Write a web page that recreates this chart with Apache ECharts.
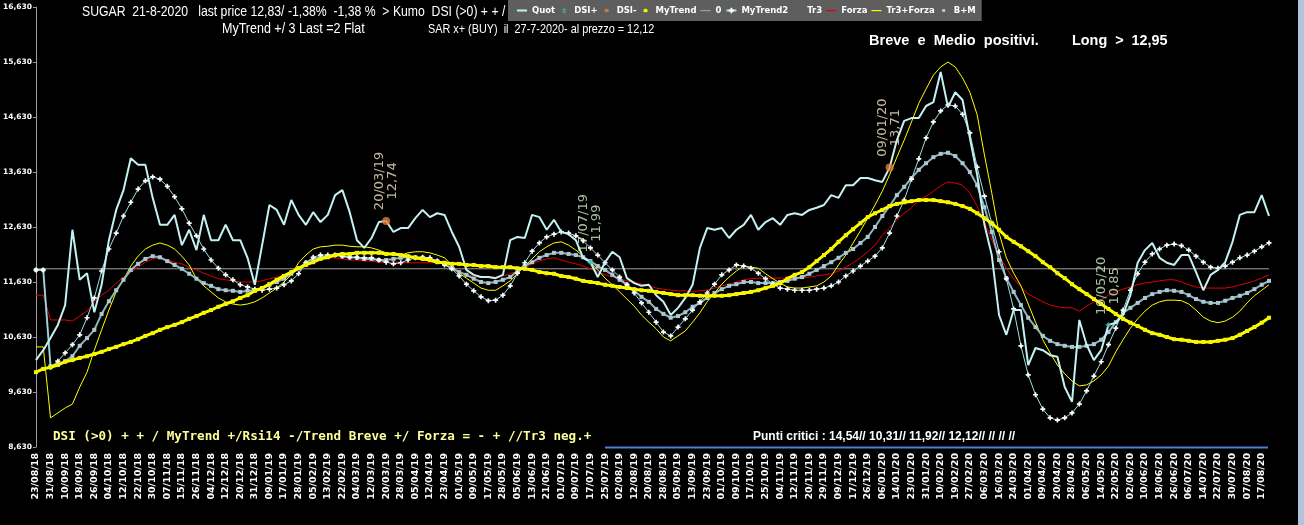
<!DOCTYPE html>
<html>
<head>
<meta charset="utf-8">
<script src="https://cdn.jsdelivr.net/npm/echarts@6/dist/echarts.min.js"></script>
<style>
html,body{margin:0;padding:0;background:#000;}
#c{width:1304px;height:525px;}
</style>
</head>
<body>
<div id="c"></div>
<script>
// ---------- data ----------
const tickLabels = ['23/08/18','31/08/18','10/09/18','18/09/18','26/09/18','04/10/18','12/10/18','22/10/18','30/10/18','07/11/18','15/11/18','26/11/18','04/12/18','12/12/18','20/12/18','31/12/18',
'09/01/19','17/01/19','28/01/19','05/02/19','13/02/19','22/02/19','04/03/19','12/03/19','20/03/19','28/03/19','05/04/19','12/04/19','23/04/19','01/05/19','09/05/19','17/05/19','28/05/19','05/06/19','13/06/19','21/06/19','01/07/19','09/07/19','17/07/19','25/07/19','02/08/19','12/08/19','20/08/19','28/08/19','05/09/19','13/09/19','23/09/19','01/10/19','09/10/19','17/10/19','25/10/19','04/11/19','12/11/19','20/11/19','29/11/19','09/12/19','17/12/19','26/12/19',
'06/01/20','14/01/20','23/01/20','31/01/20','10/02/20','19/02/20','27/02/20','06/03/20','16/03/20','24/03/20','01/04/20','09/04/20','20/04/20','28/04/20','06/05/20','14/05/20','22/05/20','02/06/20','10/06/20','18/06/20','26/06/20','06/07/20','14/07/20','22/07/20','30/07/20','07/08/20','17/08/20'];
const lastDate = '21/08/20';

const quot = [10.21,10.39,10.61,10.85,11.21,12.58,11.67,11.79,11.08,11.58,
12.39,12.94,13.30,13.88,13.76,13.76,13.16,12.67,12.67,12.85,
12.30,12.58,12.21,12.85,12.39,12.39,12.67,12.39,12.39,12.07,
11.58,12.30,13.03,12.94,12.67,13.12,12.85,12.67,12.90,12.72,
12.85,13.21,13.30,12.90,12.39,12.25,12.43,12.72,12.74,12.54,
12.61,12.61,12.79,12.94,12.81,12.88,12.85,12.54,12.27,11.85,
11.76,11.72,11.72,11.70,11.76,12.39,12.45,12.43,12.85,12.81,
12.58,12.76,12.54,12.50,12.39,12.07,11.99,11.72,11.99,12.18,
12.08,11.70,11.61,11.56,11.58,11.39,11.27,11.03,11.16,11.34,
11.58,12.25,12.61,12.58,12.61,12.43,12.58,12.67,12.85,12.58,
12.72,12.79,12.67,12.85,12.88,12.85,12.94,12.98,13.03,13.21,
13.16,13.39,13.39,13.52,13.52,13.48,13.45,13.71,14.21,14.56,
14.61,14.61,14.83,14.90,15.45,14.81,15.08,14.94,14.25,13.58,
12.67,12.12,11.03,10.67,11.12,11.12,10.12,10.43,10.39,10.30,
10.27,9.72,9.45,10.94,10.49,10.21,10.39,10.85,10.89,11.03,
11.39,11.98,12.21,12.34,12.07,11.98,11.94,12.12,12.12,11.81,
11.48,11.76,11.85,11.99,12.36,12.85,12.90,12.90,13.21,12.83];

const myTrend2 = [11.85,11.85,10.08,10.19,10.34,10.49,10.67,10.98,11.34,11.83,
12.23,12.52,12.83,13.08,13.32,13.47,13.54,13.50,13.37,13.18,
12.96,12.70,12.47,12.23,12.03,11.88,11.76,11.67,11.58,11.54,
11.50,11.48,11.50,11.52,11.58,11.65,11.78,11.98,12.08,12.12,
12.12,12.12,12.10,12.08,12.08,12.07,12.07,12.03,11.99,11.96,
11.98,12.03,12.07,12.08,12.07,12.01,11.94,11.87,11.74,11.59,
11.47,11.36,11.29,11.30,11.39,11.56,11.79,11.98,12.19,12.34,
12.45,12.50,12.54,12.52,12.47,12.38,12.25,12.12,11.98,11.85,
11.72,11.58,11.43,11.25,11.08,10.90,10.72,10.65,10.81,10.96,
11.12,11.27,11.43,11.59,11.76,11.85,11.94,11.92,11.88,11.79,
11.69,11.59,11.52,11.50,11.48,11.48,11.48,11.50,11.52,11.56,
11.63,11.74,11.83,11.92,12.01,12.10,12.25,12.52,12.83,13.12,
13.50,13.87,14.25,14.54,14.74,14.85,14.83,14.68,14.34,13.72,
13.19,12.70,12.18,11.69,11.14,10.47,9.94,9.58,9.32,9.16,
9.12,9.16,9.25,9.41,9.65,9.92,10.18,10.49,10.79,11.12,
11.48,11.78,11.99,12.14,12.23,12.30,12.32,12.29,12.21,12.10,
11.99,11.90,11.88,11.92,11.99,12.07,12.12,12.19,12.27,12.34];

const bandBM = [11.85,11.85,10.10,10.14,10.19,10.28,10.47,10.61,10.76,11.05,
11.28,11.48,11.67,11.85,11.96,12.05,12.10,12.08,12.01,11.94,
11.87,11.78,11.69,11.61,11.56,11.50,11.48,11.47,11.45,11.47,
11.48,11.52,11.58,11.63,11.69,11.78,11.88,11.98,12.05,12.08,
12.10,12.12,12.10,12.08,12.07,12.05,12.05,12.03,12.03,12.05,
12.07,12.08,12.08,12.07,12.05,12.01,11.96,11.88,11.81,11.76,
11.69,11.63,11.61,11.63,11.67,11.72,11.83,11.92,11.99,12.07,
12.12,12.16,12.16,12.14,12.12,12.08,12.01,11.92,11.85,11.76,
11.67,11.58,11.47,11.36,11.27,11.14,11.05,10.98,11.01,11.08,
11.18,11.25,11.34,11.43,11.50,11.56,11.59,11.63,11.63,11.61,
11.61,11.61,11.63,11.65,11.69,11.72,11.78,11.85,11.92,11.99,
12.07,12.16,12.23,12.34,12.45,12.63,12.83,13.01,13.21,13.36,
13.52,13.67,13.79,13.90,13.96,13.98,13.92,13.79,13.63,13.39,
12.99,12.54,12.03,11.70,11.45,11.21,10.98,10.81,10.65,10.56,
10.50,10.47,10.45,10.45,10.47,10.50,10.58,10.72,10.90,11.07,
11.16,11.25,11.34,11.41,11.45,11.48,11.47,11.45,11.39,11.32,
11.27,11.25,11.25,11.29,11.34,11.38,11.43,11.50,11.58,11.65];

const myTrend = [9.99,10.05,10.08,10.12,10.18,10.21,10.25,10.28,10.32,10.36,
10.41,10.45,10.50,10.54,10.59,10.65,10.70,10.76,10.81,10.85,
10.90,10.96,11.01,11.07,11.12,11.18,11.23,11.28,11.34,11.39,
11.47,11.52,11.59,11.67,11.74,11.81,11.88,11.94,11.99,12.05,
12.08,12.12,12.14,12.14,12.16,12.16,12.16,12.16,12.14,12.14,
12.12,12.10,12.07,12.05,12.03,11.99,11.98,11.96,11.96,11.94,
11.94,11.92,11.92,11.90,11.90,11.90,11.88,11.87,11.85,11.81,
11.79,11.78,11.74,11.72,11.69,11.65,11.63,11.61,11.58,11.56,
11.54,11.52,11.50,11.48,11.47,11.45,11.43,11.41,11.39,11.39,
11.39,11.38,11.38,11.38,11.38,11.39,11.41,11.43,11.45,11.48,
11.52,11.56,11.61,11.69,11.76,11.81,11.90,12.01,12.12,12.23,
12.36,12.48,12.59,12.70,12.81,12.88,12.94,13.01,13.05,13.08,
13.10,13.12,13.12,13.12,13.10,13.08,13.05,13.01,12.96,12.88,
12.79,12.70,12.58,12.45,12.36,12.28,12.19,12.10,11.99,11.90,
11.79,11.70,11.59,11.50,11.41,11.32,11.23,11.14,11.05,10.96,
10.89,10.83,10.76,10.70,10.67,10.63,10.59,10.58,10.56,10.54,
10.54,10.54,10.56,10.58,10.61,10.67,10.74,10.81,10.89,10.98];

const forza = [11.39,11.39,10.94,10.94,10.94,10.92,11.01,11.10,11.27,11.39,
11.48,11.61,11.72,11.81,11.90,11.99,12.05,12.07,12.03,11.99,
11.96,11.90,11.85,11.79,11.74,11.69,11.67,11.65,11.63,11.63,
11.63,11.65,11.69,11.72,11.76,11.81,11.87,11.94,12.01,12.05,
12.07,12.07,12.05,12.03,12.03,12.01,12.01,11.99,11.99,11.99,
11.99,11.98,11.98,11.98,11.98,11.98,11.98,11.92,11.83,11.78,
11.72,11.72,11.72,11.72,11.74,11.78,11.83,11.88,11.96,12.01,
12.05,12.07,12.03,11.99,11.96,11.92,11.87,11.81,11.76,11.72,
11.69,11.65,11.63,11.59,11.56,11.52,11.50,11.48,11.47,11.47,
11.45,11.47,11.48,11.52,11.56,11.59,11.63,11.67,11.69,11.70,
11.70,11.70,11.70,11.70,11.70,11.70,11.72,11.74,11.76,11.78,
11.83,11.90,11.98,12.07,12.18,12.30,12.48,12.61,12.76,12.88,
12.98,13.12,13.19,13.28,13.38,13.45,13.43,13.39,13.25,13.01,
12.72,12.39,12.12,11.88,11.69,11.54,11.41,11.34,11.27,11.21,
11.18,11.16,11.16,11.10,11.19,11.27,11.30,11.39,11.45,11.50,
11.54,11.58,11.61,11.63,11.65,11.67,11.67,11.63,11.58,11.54,
11.52,11.52,11.52,11.52,11.54,11.58,11.61,11.65,11.70,11.76];

const tr3Forza = [10.45,10.45,9.16,9.25,9.34,9.41,9.72,9.99,10.39,10.76,
11.12,11.45,11.67,11.92,12.10,12.23,12.30,12.34,12.30,12.23,
12.10,11.94,11.69,11.56,11.45,11.34,11.27,11.23,11.21,11.23,
11.27,11.34,11.43,11.52,11.63,11.76,11.98,12.12,12.23,12.27,
12.28,12.30,12.30,12.28,12.27,12.27,12.25,12.21,12.16,12.14,
12.12,12.16,12.18,12.18,12.16,12.12,12.07,11.94,11.79,11.70,
11.61,11.52,11.48,11.48,11.56,11.65,11.78,11.92,12.05,12.18,
12.27,12.34,12.36,12.30,12.21,12.10,11.98,11.85,11.70,11.58,
11.45,11.32,11.19,11.03,10.90,10.78,10.63,10.56,10.65,10.74,
10.90,11.07,11.27,11.43,11.59,11.72,11.83,11.92,11.90,11.88,
11.78,11.69,11.61,11.54,11.52,11.52,11.54,11.56,11.63,11.74,
11.94,12.12,12.34,12.56,12.79,13.03,13.28,13.58,13.90,14.21,
14.54,14.88,15.14,15.39,15.54,15.63,15.54,15.34,15.08,14.67,
13.94,13.25,12.52,12.07,11.79,11.56,11.23,10.90,10.58,10.34,
10.12,9.96,9.83,9.74,9.76,9.83,9.94,10.10,10.36,10.58,
10.79,10.96,11.10,11.21,11.27,11.30,11.30,11.29,11.23,11.12,
10.99,10.92,10.89,10.92,10.99,11.10,11.25,11.38,11.48,11.58];

const zeroLevel = 11.87;
const dsiPlusAt = [76, 147];
const dsiPlusDates = ['17/07/19', '19/05/20'];
const dsiPlusValues = [11.99, 10.85];
const dsiMinusAt = [48, 117];
const dsiMinusDates = ['20/03/19', '09/01/20'];
const dsiMinusValues = [12.74, 13.71];

const yTicks = {min: 8.63, max: 16.63, step: 1};

// ---------- build ----------
const N = quot.length;
const categories = [];
for (let j = 0; j < N; j++) {
  if (j === N - 1) categories.push(lastDate);
  else if (j % 2 === 0) categories.push(tickLabels[j / 2]);
  else categories.push(tickLabels[(j - 1) / 2] + '+');
}
const comma = (v, d) => v.toFixed(d).replace('.', ',');
const pts = (at, vals, dates) => at.map((a, i) => ({value: [a, vals[i]], name: dates[i]}));

const chart = echarts.init(document.getElementById('c'), null, {renderer: 'canvas'});
const FONT = '"DejaVu Sans", sans-serif';
const plusPath = 'path://M2,0h2v2h2v2h-2v2h-2v-2h-2v-2h2z';
// legend icons (the leading moves fix the icon box so small shapes stay small)
const BOX = 'path://M0,0 M10,7 ';
const icoThick = BOX + 'M0,2.5h10v2h-10z';
const icoThin = BOX + 'M0,3h10v1.2h-10z';
const icoDot = BOX + 'M4,1.8h2l1,1v1.4l-1,1h-2l-1,-1v-1.4z';
const icoCross = BOX + 'M4.4,0.5h1.2v6h-1.2z M3,2h4v1h-4z M3,4.2h4v1h-4z';
const icoSquare = BOX + 'M3.5,2h3v3h-3z';

const annotLabel = (color) => ({
  show: true, position: 'top', rotate: 90, align: 'center', verticalAlign: 'middle',
  offset: [31, 0], color: color, fontSize: 13, lineHeight: 13, fontFamily: FONT,
  formatter: p => p.name + '\n' + comma(p.value[1], 2)
});

chart.setOption({
  backgroundColor: '#000',
  animation: false,
  grid: {left: 31, right: 35, top: 7, bottom: 78, containLabel: false},
  legend: {
    left: 508, top: 0, padding: [6, 6, 6, 9], itemGap: 4, itemWidth: 10, itemHeight: 7,
    backgroundColor: '#5e5e5e', borderRadius: 0,
    textStyle: {color: '#fff', fontSize: 8.5, fontWeight: 'bold', fontFamily: FONT},
    data: [
      {name: 'Quot', icon: icoThick}, {name: 'DSI+', icon: icoCross}, {name: 'DSI-', icon: icoDot},
      {name: 'MyTrend', icon: icoDot}, {name: '0', icon: icoThin}, {name: 'MyTrend2'},
      {name: 'Tr3', icon: icoThin}, {name: 'Forza', icon: icoThin}, {name: 'Tr3+Forza', icon: icoThin},
      {name: 'B+M', icon: icoSquare}
    ]
  },
  xAxis: {
    type: 'category', data: categories, boundaryGap: false,
    axisLine: {show: false}, axisTick: {show: false}, splitLine: {show: false},
    axisLabel: {
      interval: (i) => i % 2 === 0, rotate: 90, color: '#fff', fontSize: 9.5, fontWeight: 'bold',
      fontFamily: FONT, margin: 6
    }
  },
  yAxis: {
    type: 'value', min: yTicks.min, max: yTicks.max, interval: yTicks.step,
    axisLine: {show: true, lineStyle: {color: '#a898a8', width: 1}},
    axisTick: {show: true, length: 3, lineStyle: {color: '#a898a8'}},
    splitLine: {show: false},
    axisLabel: {color: '#fff', fontSize: 7.5, fontWeight: 'bold', fontFamily: FONT, margin: 4,
      formatter: v => comma(v, 3)}
  },
  series: [
    {name: '0', type: 'line', data: [[0, zeroLevel], [N - 1, zeroLevel]], symbol: 'none',
      lineStyle: {color: '#a0a0a0', width: 1}, itemStyle: {color: '#a0a0a0'}, z: 1},
    {name: 'Tr3', type: 'line', data: [], symbol: 'none', itemStyle: {color: 'rgba(0,0,0,0)'},
      lineStyle: {color: 'rgba(0,0,0,0)'}},
    {name: 'Forza', type: 'line', data: forza, symbol: 'none',
      lineStyle: {color: '#e00000', width: 1}, itemStyle: {color: '#e00000'}, z: 2},
    {name: 'Tr3+Forza', type: 'line', data: tr3Forza, symbol: 'none',
      lineStyle: {color: '#ffff00', width: 1}, itemStyle: {color: '#ffff00'}, z: 2},
    {name: 'B+M', type: 'line', data: bandBM, symbol: 'rect', symbolSize: 4, showAllSymbol: true,
      lineStyle: {color: '#8fb4be', width: 2}, itemStyle: {color: '#acc8d0'}, z: 3},
    {name: 'MyTrend2', type: 'line', data: myTrend2, symbol: plusPath, symbolSize: 5, showAllSymbol: true,
      lineStyle: {color: '#9ee0e6', width: 1}, itemStyle: {color: '#ffffff'}, z: 4},
    {name: 'Quot', type: 'line', data: quot, symbol: 'none',
      lineStyle: {color: '#c4f2f2', width: 2}, itemStyle: {color: '#c4f2f2'}, z: 5},
    {name: 'MyTrend', type: 'line', data: myTrend, symbol: 'rect', symbolSize: 4, showAllSymbol: true,
      lineStyle: {color: '#ffff00', width: 3}, itemStyle: {color: '#f4f400'}, z: 6},
    {name: 'DSI+', type: 'scatter', data: pts(dsiPlusAt, dsiPlusValues, dsiPlusDates),
      symbol: 'diamond', symbolSize: 6, itemStyle: {color: '#3fb8b0'},
      label: annotLabel('#d4f0c4'), z: 8},
    {name: 'DSI-', type: 'scatter', data: pts(dsiMinusAt, dsiMinusValues, dsiMinusDates),
      symbol: 'circle', symbolSize: 8, itemStyle: {color: '#e0803c'},
      label: annotLabel('#f2e4c4'), z: 8}
  ],
  graphic: [
    {type: 'text', x: 82, y: 12, scaleX: 0.815, z: 100, style: {
      text: 'SUGAR  21-8-2020   last price 12,83/ -1,38%  -1,38 %  > Kumo  DSI (>0) + + /',
      fill: '#fff', font: '15px "Liberation Sans", Arial, sans-serif', textVerticalAlign: 'middle'}},
    {type: 'text', x: 222, y: 29, scaleX: 0.834, z: 100, style: {
      text: 'MyTrend +/ 3 Last =2 Flat',
      fill: '#fff', font: '15px "Liberation Sans", Arial, sans-serif', textVerticalAlign: 'middle'}},
    {type: 'text', x: 428, y: 29, scaleX: 0.835, z: 100, style: {
      text: 'SAR x+ (BUY)  il  27-7-2020- al prezzo = 12,12',
      fill: '#fff', font: '13px "Liberation Sans", Arial, sans-serif', textVerticalAlign: 'middle'}},
    {type: 'text', x: 869, y: 41, scaleX: 0.97, z: 100, style: {
      text: 'Breve  e  Medio  positivi.',
      fill: '#fff', font: 'bold 15px "Liberation Sans", Arial, sans-serif', textVerticalAlign: 'middle'}},
    {type: 'text', x: 1072, y: 41, scaleX: 0.96, z: 100, style: {
      text: 'Long  >  12,95',
      fill: '#fff', font: 'bold 15px "Liberation Sans", Arial, sans-serif', textVerticalAlign: 'middle'}},
    {type: 'text', x: 53, y: 437, z: 100, style: {
      text: 'DSI (>0) + + / MyTrend +/Rsi14 -/Trend Breve +/ Forza = - + //Tr3 neg.+',
      fill: '#ffff99', font: 'bold 12.6px "DejaVu Sans Mono", monospace', textVerticalAlign: 'middle'}},
    {type: 'text', x: 753, y: 437, z: 100, style: {
      text: 'Punti critici : 14,54// 10,31// 11,92// 12,12// // // //',
      fill: '#fff', font: 'bold 12px "Liberation Sans", Arial, sans-serif', textVerticalAlign: 'middle'}},
    {type: 'line', z: 100, shape: {x1: 605, y1: 447.5, x2: 1268, y2: 447.5},
      style: {stroke: '#4f7fcf', lineWidth: 2}},
    {type: 'rect', z: 100, shape: {x: 1298, y: 0, width: 6, height: 525},
      style: {fill: '#b2c2de'}}
  ]
});
</script>
</body>
</html>
